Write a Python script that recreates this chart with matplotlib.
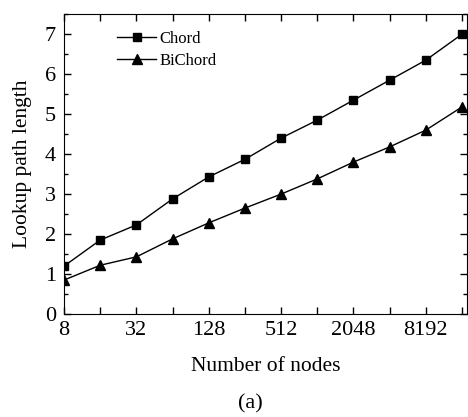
import numpy as np
import matplotlib.pyplot as plt
from matplotlib.ticker import FixedLocator, FixedFormatter, MultipleLocator

# Data
nodes = [8, 16, 32, 64, 128, 256, 512, 1024, 2048, 4096, 8192, 16384]
chord = [1.2, 1.85, 2.23, 2.88, 3.43, 3.87, 4.4, 4.85, 5.35, 5.85, 6.35, 7.0]
bichord = [0.85, 1.22, 1.43, 1.88, 2.28, 2.65, 3.0, 3.38, 3.8, 4.18, 4.6, 5.18]
tick_labels = ['8', '', '32', '', '128', '', '512', '', '2048', '', '8192', '']

plt.rcParams['font.family'] = 'Liberation Serif'

fig = plt.figure(figsize=(4.68, 4.17), dpi=100)
ax = fig.add_axes([0.137, 0.247, 0.861, 0.719])

ax.plot(nodes, chord, '-s', color='black', lw=1, ms=5.5, label='Chord')
ax.plot(nodes, bichord, '-^', color='black', lw=1, ms=7, label='BiChord')

ax.set_xscale('log', base=2)
ax.set_xlim(8, 18050)
ax.xaxis.set_major_locator(FixedLocator(nodes))
ax.xaxis.set_major_formatter(FixedFormatter(tick_labels))
ax.xaxis.set_minor_locator(FixedLocator([]))
ax.set_ylim(0, 7.5)
ax.yaxis.set_major_locator(MultipleLocator(1))
ax.yaxis.set_minor_locator(MultipleLocator(0.5))

ax.tick_params(which='both', direction='in', top=True, right=True, labelsize=16, width=1)
ax.tick_params(which='major', length=5)
ax.tick_params(which='minor', length=3)
ax.tick_params(axis='x', pad=5)
ax.tick_params(axis='y', pad=6)

ax.set_xlabel('Number of nodes', fontsize=15.5, labelpad=12)
ax.set_ylabel('Lookup path length', fontsize=15.5, labelpad=9)

ax.legend(loc='upper left', bbox_to_anchor=(0.095, 0.995), frameon=False, fontsize=12,
          handlelength=2.3, handletextpad=0.2, labelspacing=0.35)

fig.text(0.536, 0.031, '(a)', fontsize=16, ha='center', va='center')

fig.savefig('out.png', dpi=100)
